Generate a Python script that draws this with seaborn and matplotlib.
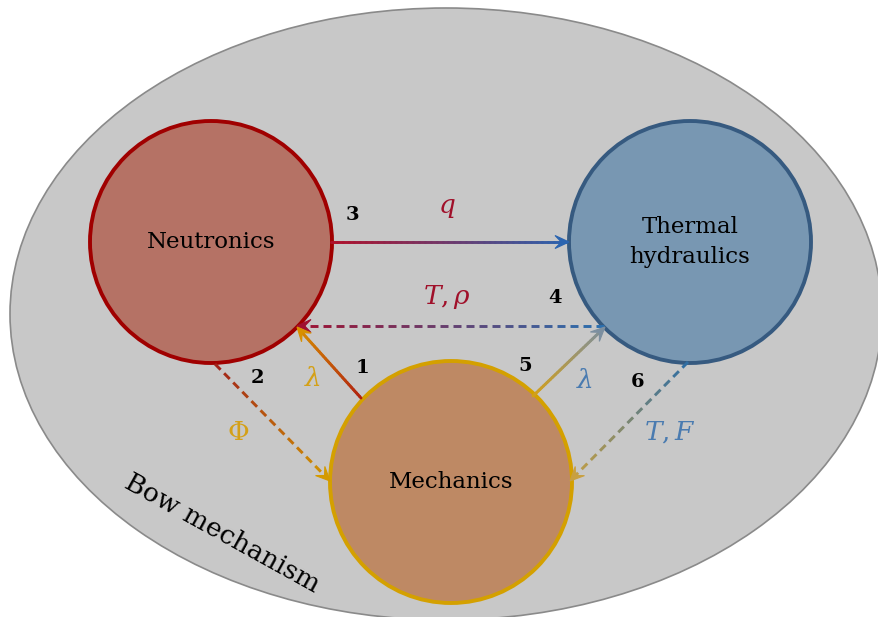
import numpy as np
import seaborn as sns
import matplotlib.pyplot as plt
from matplotlib.patches import Ellipse, Circle, Polygon
from matplotlib.collections import LineCollection

sns.set_theme(style="white")
plt.rcParams['font.family'] = ['DejaVu Serif']
plt.rcParams['mathtext.fontset'] = 'dejavuserif'

# nodes of the coupling scheme
node_names = ["Neutronics", "Thermal\nhydraulics", "Mechanics"]
node_fill = ["#b57265", "#7897b2", "#be8964"]
node_edge = ["#a00000", "#365a80", "#d4a000"]

# couplings: number, quantity, solid / dashed, start colour, end colour
edge_ids = ["3", "4", "1", "2", "5", "6"]
edge_labels = ["$q$", r"$T,\rho$", r"$\lambda$", r"$\Phi$", r"$\lambda$", "$T,F$"]
edge_dashed = [False, True, False, True, False, True]
edge_c0 = ["#b0102a", "#2a70b0", "#b02010", "#a0201a", "#d4a017", "#2e6da4"]
edge_c1 = ["#2a64b0", "#a01030", "#d89000", "#d49a00", "#7c8fa0", "#c8a040"]
label_colors = ["#a0102a", "#a0102a", "#d4a017", "#d4a017", "#4a7bb0", "#4a7bb0"]

# layout (pixel coordinates)
centers = [(211, 242), (690, 242), (451, 482)]
radius = 121
edge_pts = [((331, 242), (569, 242)),
            ((604, 326), (297, 326)),
            ((361, 398), (297, 327)),
            ((215, 364), (330, 481)),
            ((533, 396), (605, 327)),
            ((688, 362), (570, 481))]
id_pos = [(352, 215), (555, 298), (362, 368), (257, 378), (525, 366), (638, 382)]
lab_pos = [(447, 208), (447, 297), (313, 379), (238, 432), (585, 380), (670, 432)]

fig = plt.figure(figsize=(8.79, 6.17), dpi=100)
ax = fig.add_axes([0, 0, 1, 1])
ax.set_xlim(0, 879)
ax.set_ylim(617, 0)
ax.set_aspect('equal')
ax.axis('off')

ax.add_patch(Ellipse((446, 314), 872, 612, facecolor="#c8c8c8",
                     edgecolor="#8a8a8a", lw=1.2, zorder=0))

for name, c, fc, ec in zip(node_names, centers, node_fill, node_edge):
    ax.add_patch(Circle(c, radius, facecolor=fc, edgecolor=ec, lw=2.8, zorder=2))
    ax.text(c[0], c[1], name, ha='center', va='center', fontsize=16.5,
            color='black', linespacing=1.45, zorder=5)


def grad_line(p0, p1, c0, c1, dashed):
    p0 = np.array(p0, float)
    p1 = np.array(p1, float)
    L = np.linalg.norm(p1 - p0)
    u = (p1 - p0) / L
    cols = sns.blend_palette([c0, c1], 200)
    head = 14
    stop = L - 3
    segs, scol = [], []
    if dashed:
        dash, gap = 8, 5
        s = 0
        while s < stop:
            e = min(s + dash, stop)
            segs.append([p0 + u * s, p0 + u * e])
            scol.append(cols[int(min(199, (s + e) / 2 / L * 199))])
            s += dash + gap
        cap = 'butt'
    else:
        n = 40
        for i in range(n):
            s, e = stop * i / n, stop * (i + 1) / n
            segs.append([p0 + u * s, p0 + u * e])
            scol.append(cols[int(min(199, (s + e) / 2 / L * 199))])
        cap = 'round'
    ax.add_collection(LineCollection(segs, colors=scol, linewidths=2.1,
                                     capstyle=cap, zorder=3))
    # stealth style arrow head
    v = np.array([-u[1], u[0]])
    tip = p1
    back = p1 - u * head
    notch = p1 - u * head * 0.55
    pts = [tip, back + v * 6.5, notch, back - v * 6.5]
    ax.add_patch(Polygon(pts, closed=True, facecolor=cols[-1],
                         edgecolor=cols[-1], lw=0.8, joinstyle='miter', zorder=4))


for (p0, p1), dsh, c0, c1 in zip(edge_pts, edge_dashed, edge_c0, edge_c1):
    grad_line(p0, p1, c0, c1, dsh)

for num, pos in zip(edge_ids, id_pos):
    ax.text(pos[0], pos[1], num, ha='center', va='center', fontsize=14,
            fontweight='bold', color='black', zorder=5)

for lab, pos, col in zip(edge_labels, lab_pos, label_colors):
    ax.text(pos[0], pos[1], lab, ha='center', va='center', fontsize=19,
            color=col, zorder=5)

ax.text(222, 533, "Bow mechanism", ha='center', va='center', fontsize=19,
        rotation=-29, rotation_mode='anchor', color='black', zorder=5)

fig.savefig("out.png", dpi=100)
